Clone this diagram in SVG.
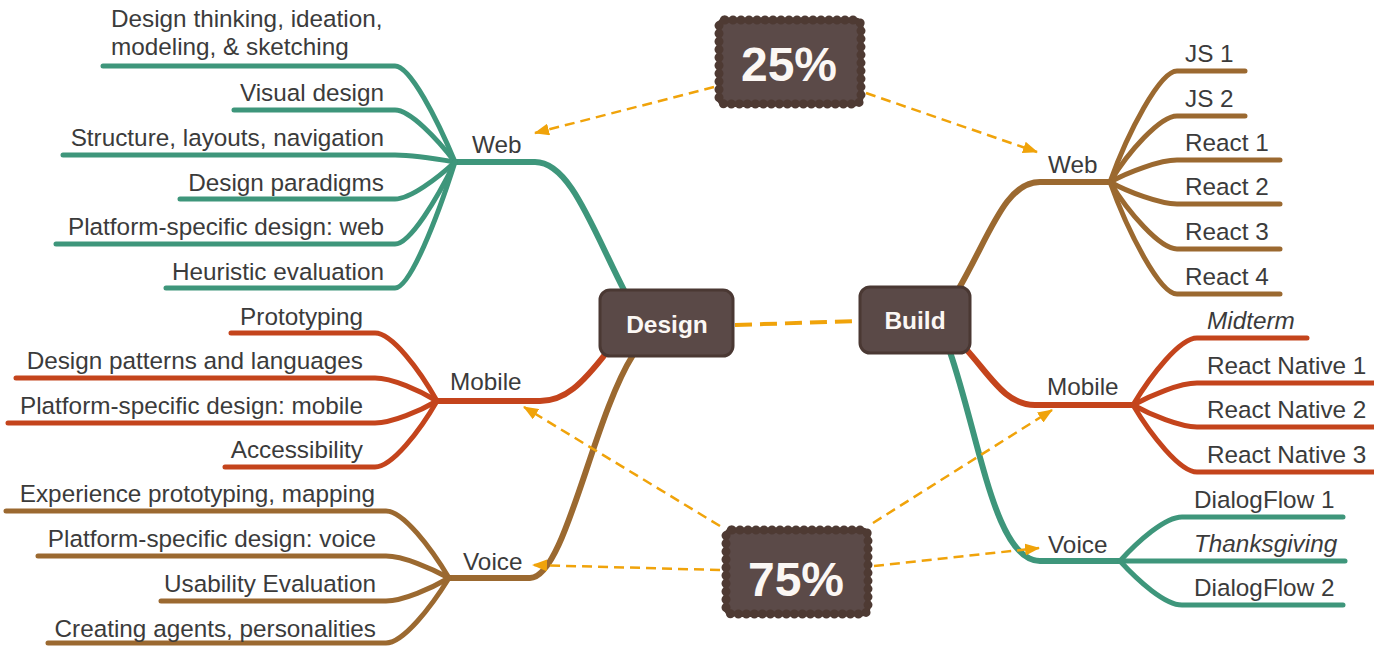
<svg xmlns="http://www.w3.org/2000/svg" width="1374" height="646" viewBox="0 0 1374 646">
<defs>
<style>
.t{font-family:"Liberation Sans",Arial,sans-serif;font-size:24.3px;fill:#3b3b3b}
.e{text-anchor:end}
.i{font-style:italic}
.g{stroke:#3e967b}
.r{stroke:#c4441c}
.b{stroke:#9b6930}
.ln{fill:none;stroke-width:5;stroke-linecap:round;stroke-linejoin:round}
.tr{fill:none;stroke-width:6;stroke-linecap:round}
.da{fill:none;stroke:#f0a30a;stroke-width:2.5;stroke-dasharray:10 6}
.box{fill:#5a4947;stroke:#4a3833;stroke-width:3}
.cl{fill:#5b4a48;stroke:#4e3a33;stroke-width:5}
.clb{fill:none;stroke:#4e3a33;stroke-width:9;stroke-dasharray:0 8;stroke-linecap:round}
.nt{font-family:"Liberation Sans",Arial,sans-serif;font-weight:bold;fill:#fbf7f4;text-anchor:middle}
</style>
<marker id="arr" markerWidth="15" markerHeight="12" refX="14" refY="6" orient="auto" markerUnits="userSpaceOnUse"><path d="M0,0 L15,6 L0,12 z" fill="#f0a30a"/></marker>
</defs>
<rect width="1374" height="646" fill="#ffffff"/>
<g id="connectors">
<path class="tr g" d="M455,162 H535 C570,162 592,228 625,292"/>
<path class="tr r" d="M437,401 H540 C565,401 582,384 607,352"/>
<path class="tr b" d="M449,578 H530 C565,578 592,420 633,355"/>
<path class="tr b" d="M958,290 C990,235 1005,182 1040,182 H1110"/>
<path class="tr r" d="M965,348 C990,375 1005,405 1035,405 H1133"/>
<path class="tr g" d="M950,352 C980,440 995,561 1040,561 H1120"/>
<path class="ln g" d="M103,66 H395 C410,66 437,118.8 455,162"/>
<path class="ln g" d="M234,110 H395 C410,110 437,138.6 455,162"/>
<path class="ln g" d="M63,155 H395 C410,155 437,158.9 455,162"/>
<path class="ln g" d="M180,199 H395 C410,199 437,178.7 455,162"/>
<path class="ln g" d="M56,244 H395 C410,244 437,198.9 455,162"/>
<path class="ln g" d="M166,288 H395 C410,288 437,218.7 455,162"/>
<path class="ln r" d="M231,333 H375 C392,333 420,370.4 437,401"/>
<path class="ln r" d="M16,378 H375 C392,378 420,390.7 437,401"/>
<path class="ln r" d="M8,423 H375 C392,423 420,410.9 437,401"/>
<path class="ln r" d="M225,467 H375 C392,467 420,430.7 437,401"/>
<path class="ln b" d="M6,511 H386 C403,511 431,547.9 449,578"/>
<path class="ln b" d="M38,556 H386 C403,556 431,568.1 449,578"/>
<path class="ln b" d="M161,601 H386 C403,601 431,588.4 449,578"/>
<path class="ln b" d="M48,643 H386 C403,643 431,607.3 449,578"/>
<path class="ln b" d="M1110,182 C1128,132 1160,71 1177,71 H1245"/>
<path class="ln b" d="M1110,182 C1128,152.3 1160,116 1177,116 H1245"/>
<path class="ln b" d="M1110,182 C1128,172.1 1160,160 1177,160 H1280"/>
<path class="ln b" d="M1110,182 C1128,191.9 1160,204 1177,204 H1280"/>
<path class="ln b" d="M1110,182 C1128,212.2 1160,249 1177,249 H1280"/>
<path class="ln b" d="M1110,182 C1128,232.4 1160,294 1177,294 H1280"/>
<path class="ln r" d="M1133,405 C1151,374.9 1180,338 1197,338 H1307"/>
<path class="ln r" d="M1133,405 C1151,395.1 1180,383 1197,383 H1374"/>
<path class="ln r" d="M1133,405 C1151,414.9 1180,427 1197,427 H1374"/>
<path class="ln r" d="M1133,405 C1151,435.2 1180,472 1197,472 H1374"/>
<path class="ln g" d="M1120,561 C1138,541.2 1165,517 1182,517 H1343"/>
<path class="ln g" d="M1120,561 H1345"/>
<path class="ln g" d="M1120,561 C1138,580.8 1165,605 1182,605 H1343"/>
<path d="M735,325 L858,321" fill="none" stroke="#f0a30a" stroke-width="4" stroke-dasharray="17 8"/>
<path class="da" d="M714,87 L535,133" marker-end="url(#arr)"/>
<path class="da" d="M866,93 L1037,152" marker-end="url(#arr)"/>
<path class="da" d="M720,526 L524,407" marker-end="url(#arr)"/>
<path class="da" d="M720,570 L533,565" marker-end="url(#arr)"/>
<path class="da" d="M873,523 L1052,410" marker-end="url(#arr)"/>
<path class="da" d="M874,566 L1039,548" marker-end="url(#arr)"/>
</g>
<g id="design"><rect class="box" x="600" y="290" width="133" height="66" rx="10"/><text class="nt" x="667" y="333" font-size="24.5">Design</text></g>
<g id="build"><rect class="box" x="860" y="287" width="110" height="66" rx="10"/><text class="nt" x="915" y="329" font-size="24.5">Build</text></g>
<g id="pct25"><rect class="cl" x="719" y="20" width="142" height="84" rx="6"/><rect class="clb" x="719" y="20" width="142" height="84" rx="6"/><text class="nt" x="789" y="81" font-size="48">25%</text></g>
<g id="pct75"><rect class="cl" x="726" y="530" width="142" height="84" rx="6"/><rect class="clb" x="726" y="530" width="142" height="84" rx="6"/><text class="nt" x="796" y="596" font-size="48">75%</text></g>
<g id="design-web"><text class="t" x="472" y="153">Web</text></g>
<g id="design-mobile"><text class="t" x="450" y="390">Mobile</text></g>
<g id="design-voice"><text class="t" x="463" y="570">Voice</text></g>
<g id="build-web"><text class="t" x="1048" y="173">Web</text></g>
<g id="build-mobile"><text class="t" x="1047" y="395">Mobile</text></g>
<g id="build-voice"><text class="t" x="1048" y="553">Voice</text></g>
<g id="dw1"><text class="t" x="111" y="27">Design thinking, ideation,</text><text class="t" x="111" y="55">modeling, &amp; sketching</text></g>
<g id="dw2"><text class="t e" x="384" y="101">Visual design</text></g>
<g id="dw3"><text class="t e" x="384" y="146">Structure, layouts, navigation</text></g>
<g id="dw4"><text class="t e" x="384" y="191">Design paradigms</text></g>
<g id="dw5"><text class="t e" x="384" y="235">Platform-specific design: web</text></g>
<g id="dw6"><text class="t e" x="384" y="280">Heuristic evaluation</text></g>
<g id="dm1"><text class="t e" x="363" y="325">Prototyping</text></g>
<g id="dm2"><text class="t e" x="363" y="369">Design patterns and languages</text></g>
<g id="dm3"><text class="t e" x="363" y="414">Platform-specific design: mobile</text></g>
<g id="dm4"><text class="t e" x="363" y="458">Accessibility</text></g>
<g id="dv1"><text class="t e" x="375" y="502">Experience prototyping, mapping</text></g>
<g id="dv2"><text class="t e" x="376" y="547">Platform-specific design: voice</text></g>
<g id="dv3"><text class="t e" x="376" y="592">Usability Evaluation</text></g>
<g id="dv4"><text class="t e" x="376" y="637">Creating agents, personalities</text></g>
<g id="bw1"><text class="t" x="1185" y="62">JS 1</text></g>
<g id="bw2"><text class="t" x="1185" y="107">JS 2</text></g>
<g id="bw3"><text class="t" x="1185" y="151">React 1</text></g>
<g id="bw4"><text class="t" x="1185" y="195">React 2</text></g>
<g id="bw5"><text class="t" x="1185" y="240">React 3</text></g>
<g id="bw6"><text class="t" x="1185" y="285">React 4</text></g>
<g id="bm1"><text class="t i" x="1207" y="329">Midterm</text></g>
<g id="bm2"><text class="t" x="1207" y="374">React Native 1</text></g>
<g id="bm3"><text class="t" x="1207" y="418">React Native 2</text></g>
<g id="bm4"><text class="t" x="1207" y="463">React Native 3</text></g>
<g id="bv1"><text class="t" x="1194" y="508">DialogFlow 1</text></g>
<g id="bv2"><text class="t i" x="1194" y="552">Thanksgiving</text></g>
<g id="bv3"><text class="t" x="1194" y="596">DialogFlow 2</text></g>
</svg>
